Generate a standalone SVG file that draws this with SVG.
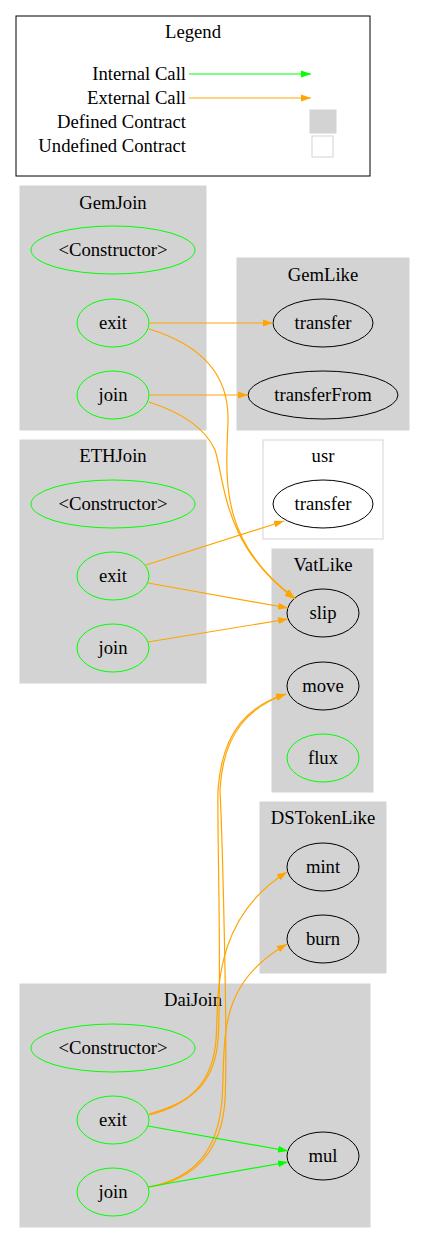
<svg xmlns="http://www.w3.org/2000/svg" width="425" height="1243" viewBox="0 0 425 1243">
<style>
text{font-family:"Liberation Serif","Times New Roman",serif;font-size:18.67px;fill:#000;text-anchor:middle}
.cl{fill:#d3d3d3;stroke:#d3d3d3}
.ucl{fill:#fff;stroke:#d3d3d3}
.fn{fill:none;stroke:#00ff00}
.ext{fill:none;stroke:#000}
.ex{fill:none;stroke:#ffa500;stroke-width:1.2}
.in{fill:none;stroke:#00ff00;stroke-width:1.2}
</style>
<defs>
<marker id="ao" markerUnits="userSpaceOnUse" markerWidth="10" markerHeight="8" refX="10" refY="4" orient="auto"><path d="M0,0.5 L10,4 L0,7.5 z" fill="#ffa500"/></marker>
<marker id="ag" markerUnits="userSpaceOnUse" markerWidth="10" markerHeight="8" refX="10" refY="4" orient="auto"><path d="M0,0.5 L10,4 L0,7.5 z" fill="#00ff00"/></marker>
</defs>
<rect x="0" y="0" width="425" height="1243" fill="#fff"/>
<g id="legend">
<rect x="16" y="16" width="354" height="160" fill="#fff" stroke="#000"/>
<text x="193" y="38">Legend</text>
<text x="186" y="80" style="text-anchor:end">Internal Call</text>
<path class="in" d="M189,74 L311,74" marker-end="url(#ag)"/>
<text x="186" y="104" style="text-anchor:end">External Call</text>
<path class="ex" d="M189,98 L311,98" marker-end="url(#ao)"/>
<text x="186" y="128" style="text-anchor:end">Defined Contract</text>
<rect x="310" y="110" width="26" height="23" fill="#d3d3d3" stroke="#d3d3d3"/>
<text x="186" y="152" style="text-anchor:end">Undefined Contract</text>
<rect x="312" y="136" width="21" height="21" fill="#fff" stroke="#d3d3d3"/>
</g>
<g id="GemJoin">
<rect class="cl" x="20" y="186" width="186" height="244"/>
<text x="113" y="209">GemJoin</text>
<ellipse class="fn" cx="113" cy="250" rx="82" ry="24"/><text x="113" y="256">&lt;Constructor&gt;</text>
<ellipse class="fn" cx="113" cy="323" rx="36" ry="24"/><text x="113" y="329">exit</text>
<ellipse class="fn" cx="113" cy="395" rx="36" ry="24"/><text x="113" y="401">join</text>
</g>
<g id="GemLike">
<rect class="cl" x="237" y="258" width="172" height="172"/>
<text x="323" y="281">GemLike</text>
<ellipse class="ext" cx="323" cy="323" rx="50" ry="24"/><text x="323" y="329">transfer</text>
<ellipse class="ext" cx="323" cy="395" rx="75" ry="24"/><text x="323" y="401">transferFrom</text>
</g>
<g id="ETHJoin">
<rect class="cl" x="20" y="440" width="186" height="243"/>
<text x="113" y="462">ETHJoin</text>
<ellipse class="fn" cx="113" cy="504" rx="82" ry="24"/><text x="113" y="510">&lt;Constructor&gt;</text>
<ellipse class="fn" cx="113" cy="576" rx="36" ry="24"/><text x="113" y="582">exit</text>
<ellipse class="fn" cx="113" cy="648" rx="36" ry="24"/><text x="113" y="654">join</text>
</g>
<g id="usr">
<rect class="ucl" x="263" y="440" width="120" height="99"/>
<text x="323" y="462">usr</text>
<ellipse class="ext" cx="323" cy="504" rx="50" ry="24" fill="#fff"/><text x="323" y="510">transfer</text>
</g>
<g id="VatLike">
<rect class="cl" x="272" y="549" width="101" height="243"/>
<text x="323" y="571">VatLike</text>
<ellipse class="ext" cx="323" cy="613" rx="36" ry="24"/><text x="323" y="619">slip</text>
<ellipse class="ext" cx="323" cy="686" rx="36" ry="24"/><text x="323" y="692">move</text>
<ellipse class="fn" cx="323" cy="758" rx="36" ry="24"/><text x="323" y="764">flux</text>
</g>
<g id="DSTokenLike">
<rect class="cl" x="260" y="802" width="126" height="171"/>
<text x="323" y="824">DSTokenLike</text>
<ellipse class="ext" cx="323" cy="867" rx="36" ry="24"/><text x="323" y="873">mint</text>
<ellipse class="ext" cx="323" cy="939" rx="36" ry="24"/><text x="323" y="945">burn</text>
</g>
<g id="DaiJoin">
<rect class="cl" x="20" y="984" width="350" height="243"/>
<text x="193" y="1006">DaiJoin</text>
<ellipse class="fn" cx="113" cy="1048" rx="82" ry="24"/><text x="113" y="1054">&lt;Constructor&gt;</text>
<ellipse class="fn" cx="113" cy="1120" rx="36" ry="24"/><text x="113" y="1126">exit</text>
<ellipse class="fn" cx="113" cy="1192" rx="36" ry="24"/><text x="113" y="1198">join</text>
<ellipse class="ext" cx="323" cy="1156" rx="36" ry="24"/><text x="323" y="1162">mul</text>
</g>
<g id="connectors">
<path class="ex" d="M149,323 L273,323" marker-end="url(#ao)"/>
<path class="ex" d="M149,395 L248,395" marker-end="url(#ao)"/>
<path class="ex" d="M149,329 C195,343 229,370 228,420 C227,470 215,540 295,598" marker-end="url(#ao)"/>
<path class="ex" d="M149,402 C180,412 205,428 215,450 C225,480 222,545 295,599" marker-end="url(#ao)"/>
<path class="ex" d="M146,565 L284,521" marker-end="url(#ao)"/>
<path class="ex" d="M148,583 L288,608" marker-end="url(#ao)"/>
<path class="ex" d="M148,642 L288,619" marker-end="url(#ao)"/>
<path class="ex" d="M149,1114 C195,1102 215,1080 218,1040 C222,985 217,830 218,790 C222,730 250,705 286,694" marker-end="url(#ao)"/>
<path class="ex" d="M149,1187 C195,1180 222,1150 225,1100 C228,1040 222,830 220,790 C223,730 252,706 286,694" marker-end="url(#ao)"/>
<path class="ex" d="M149,1115 C192,1105 213,1080 216,1040 C219,1000 210,920 287,872" marker-end="url(#ao)"/>
<path class="ex" d="M149,1187 C195,1178 218,1150 222,1100 C226,1040 215,985 287,944" marker-end="url(#ao)"/>
<path class="in" d="M148,1126 L288,1151" marker-end="url(#ag)"/>
<path class="in" d="M148,1187 L288,1162" marker-end="url(#ag)"/>
</g>
</svg>
